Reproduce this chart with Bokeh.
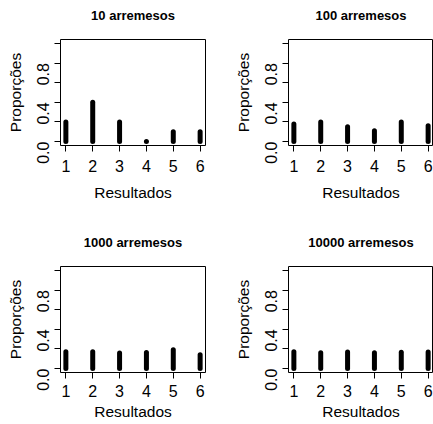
import math
from bokeh.plotting import figure
from bokeh.layouts import gridplot
from bokeh.models import Range1d, FixedTicker, LinearAxis
from bokeh.embed import file_html
from bokeh.resources import INLINE

faces = [1, 2, 3, 4, 5, 6]
titles = ["10 arremesos", "100 arremesos", "1000 arremesos", "10000 arremesos"]
prop_10 = [0.2, 0.4, 0.2, 0.0, 0.1, 0.1]
prop_100 = [0.18, 0.20, 0.15, 0.11, 0.20, 0.16]
prop_1000 = [0.172, 0.172, 0.158, 0.165, 0.191, 0.142]
prop_10000 = [0.171, 0.161, 0.170, 0.162, 0.166, 0.170]
y_ticks = [0, 0.2, 0.4, 0.6, 0.8, 1.0]
y_tick_labels = ["0.0", "", "0.4", "", "0.8", ""]
x_label = "Resultados"
y_label = "Proporções"

FONT = "Liberation Sans"


def panel(title, values, width, height, right_border, bottom_border, xs, xa):
    p = figure(width=width, height=height, output_backend="svg", toolbar_location=None,
               x_range=Range1d(0.8, 6.2), y_range=Range1d(-0.04, 1.04),
               min_border_left=60, min_border_right=right_border,
               min_border_top=39, min_border_bottom=bottom_border)
    bottom = p.below[0]
    left = p.left[0]
    p.xgrid.visible = False
    p.ygrid.visible = False
    p.outline_line_color = "black"
    p.outline_line_width = 1
    p.background_fill_color = "white"
    p.border_fill_color = "white"
    p.segment(x0=faces, y0=[0] * len(faces), x1=faces, y1=values,
              line_width=5, line_cap="round", line_color="black")
    for ax in (bottom, left):
        ax.axis_line_color = None
        ax.major_tick_out = 6
        ax.major_tick_in = 0
        ax.minor_tick_line_color = None
        ax.major_tick_line_color = "black"
        ax.major_label_text_font = FONT
        ax.major_label_text_font_size = "16px"
        ax.major_label_text_color = "black"
        ax.axis_label_text_font = FONT
        ax.axis_label_text_font_size = "15.5px"
        ax.axis_label_text_font_style = "normal"
        ax.axis_label_text_color = "black"
    bottom.ticker = FixedTicker(ticks=faces)
    bottom.axis_label = x_label
    bottom.major_label_standoff = xs
    bottom.axis_label_standoff = xa
    left.ticker = FixedTicker(ticks=y_ticks)
    left.major_label_overrides = {t: s for t, s in zip(y_ticks, y_tick_labels)}
    left.major_label_orientation = math.pi / 2
    left.axis_label = y_label
    left.major_label_standoff = 11
    left.axis_label_standoff = 5
    # title drawn as the label of an empty axis above the frame
    top = LinearAxis(ticker=FixedTicker(ticks=[]), axis_label=title,
                     axis_line_color=None, major_tick_line_color=None,
                     minor_tick_line_color=None, major_label_text_font_size="0px",
                     major_tick_out=0, major_tick_in=0,
                     minor_tick_out=0, minor_tick_in=0, major_label_standoff=0,
                     axis_label_standoff=17,
                     axis_label_text_font=FONT, axis_label_text_font_size="13px",
                     axis_label_text_font_style="bold", axis_label_text_color="black")
    p.add_layout(top, "above")
    return p


p1 = panel(titles[0], prop_10, 228, 227, 23, 82, 8, 9)
p2 = panel(titles[1], prop_100, 205, 227, 0, 82, 8, 9)
p3 = panel(titles[2], prop_1000, 228, 197, 23, 52, 6, 3)
p4 = panel(titles[3], prop_10000, 205, 197, 0, 52, 6, 3)

grid = gridplot([[p1, p2], [p3, p4]], toolbar_location=None)

open("out.html", "w").write(file_html(grid, INLINE))
